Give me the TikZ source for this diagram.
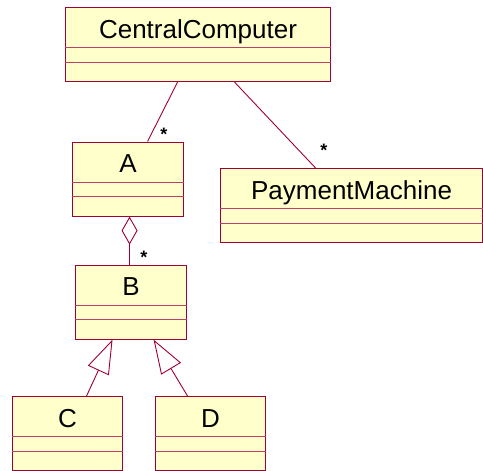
\documentclass[tikz,border=0pt]{standalone}
\usepackage{fontspec}
\setmainfont{Liberation Sans}
\usetikzlibrary{arrows.meta,calc}
\definecolor{umlline}{RGB}{160,0,55}
\definecolor{umlfill}{RGB}{255,255,204}
\tikzset{
  x=1pt,y=-1pt,
  cls/.style={draw=umlline,fill=umlfill,line width=1.1pt,rectangle,minimum height=74pt,anchor=north west,inner sep=0pt},
  clsname/.style={font=\fontsize{26}{30}\selectfont,inner sep=0pt,anchor=base},
  divider/.style={draw=umlline!75,line width=1pt},
  conn/.style={draw=umlline,line width=0.9pt},
  mult/.style={font=\fontsize{18}{20}\selectfont\bfseries,inner sep=0pt},
}
\newcommand{\umlcls}[5]{%
  \node[cls,minimum width=#4] (#1) at (#2,#3) {};
  \node[clsname] (#1t) at ($(#1.north)+(0,31)$) {#5};
  \draw[divider] ($(#1.north west)+(0,40.5)$) -- ($(#1.north east)+(0,40.5)$);
  \draw[divider] ($(#1.north west)+(0,55)$) -- ($(#1.north east)+(0,55)$);
}
\begin{document}
\begin{tikzpicture}
\useasboundingbox (0,0) rectangle (483,471);
\umlcls{cc}{65}{7}{265pt}{CentralComputer}
\umlcls{a}{72}{141.5}{111pt}{A}
\umlcls{pm}{220}{168}{262pt}{PaymentMachine}
\umlcls{b}{75}{264.5}{111pt}{B}
\umlcls{c}{12}{396}{110pt}{C}
\umlcls{d}{155}{396}{110pt}{D}
% associations
\draw[conn] ([xshift=-20.5pt]cc.south) -- ([xshift=19.5pt]a.north);
\draw[conn] ([xshift=36.5pt]cc.south) -- ([xshift=-36pt]pm.north);
\node[mult] (m1) at (164,134) {*};
\node[mult] (m2) at (324,150) {*};
% aggregation
\draw[conn,{Diamond[open,length=28pt,width=16pt]}-] ([xshift=1.5pt]a.south) -- ([xshift=-1.5pt]b.north);
\node[mult] (m3) at (144,257) {*};
% generalization
\draw[conn,-{Triangle[open,length=34pt,width=23pt]}] ([xshift=19pt]c.north) -- ([xshift=-18.5pt]b.south);
\draw[conn,-{Triangle[open,length=34pt,width=23pt]}] ([xshift=-23pt]d.north) -- ([xshift=22.5pt]b.south);
\end{tikzpicture}
\end{document}
